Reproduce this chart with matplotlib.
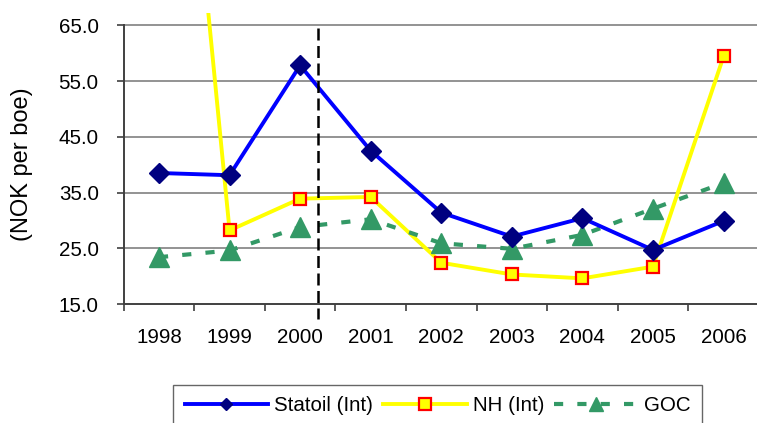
"""
Unit cost per boe: Statoil vs Norsk Hydro vs GOC, 1998-2006
"""

import numpy as np
import matplotlib.pyplot as plt
from matplotlib.lines import Line2D

plt.rcParams['font.family'] = ['Liberation Sans', 'DejaVu Sans']

# Data
YEARS = ['1998', '1999', '2000', '2001', '2002', '2003', '2004', '2005', '2006']
STATOIL = [38.5, 38.1, 57.8, 42.5, 31.4, 27.1, 30.4, 24.7, 29.9]
NH = [158.0, 28.2, 33.9, 34.2, 22.4, 20.3, 19.6, 21.7, 59.4]
GOC = [23.4, 24.6, 28.8, 30.2, 25.9, 24.9, 27.4, 32.1, 36.7]
Y_TICKS = [15, 25, 35, 45, 55, 65]
LABELS = ['Statoil (Int)', 'NH (Int)', 'GOC']

FS = 14.8


def main():
    fig = plt.figure(figsize=(7.57, 4.23), dpi=100)
    ax = fig.add_axes([0.1634, 0.2813, 0.839, 0.688])

    x = np.arange(len(YEARS))

    # estilos das series
    s_style = dict(color='#0000FF', lw=2.8, marker='D', ms=10.5,
                   mfc='#000080', mec='#000080')
    n_style = dict(color='#FFFF00', lw=2.8, marker='s', ms=8.5,
                   mfc='#FFFF00', mec='#FF0000', mew=1.6)
    g_style = dict(color='#339966', lw=3.0, ls=(0, (2.2, 3.4)), marker='^',
                   ms=15, mfc='#339966', mec='#339966')

    # linhas primeiro, marcadores por cima
    for y, st in [(NH, n_style), (GOC, g_style), (STATOIL, s_style)]:
        ax.plot(x, y, color=st['color'], lw=st['lw'], ls=st.get('ls', '-'),
                zorder=3)
    for y, st in [(NH, n_style), (GOC, g_style), (STATOIL, s_style)]:
        ax.plot(x, y, ls='none', marker=st['marker'], ms=st['ms'],
                mfc=st['mfc'], mec=st['mec'], mew=st.get('mew', 1),
                zorder=4)

    # linha vertical tracejada entre 2000 e 2001
    ax.plot([2.25, 2.25], [64.5, 12.3], color='black', lw=1.8,
            ls=(0, (4.8, 2.2)), clip_on=False, zorder=5)

    ax.set_xlim(-0.5, 8.5)
    ax.set_ylim(15, 67.2)

    ax.set_yticks(Y_TICKS)
    ax.set_yticklabels([f'{v:.1f}' for v in Y_TICKS])
    ax.set_xticks(x)
    ax.set_xticklabels(YEARS)
    ax.set_xticks(np.arange(-0.5, 9.0, 1.0), minor=True)

    ax.tick_params(axis='x', which='major', length=0, pad=17.5, labelsize=FS)
    ax.tick_params(axis='x', which='minor', length=5, width=1.2,
                   color='#404040', direction='out')
    ax.tick_params(axis='y', length=5, width=1.2, color='#404040',
                   pad=13, labelsize=FS)

    for v in Y_TICKS[1:]:
        ax.axhline(v, color='#808080', lw=1.2, zorder=1)

    for side in ['top', 'right']:
        ax.spines[side].set_visible(False)
    for side in ['left', 'bottom']:
        ax.spines[side].set_color('#404040')
        ax.spines[side].set_linewidth(1.4)
    ax.spines['left'].set_bounds(15, 65)

    fig.text(22 / 757, 1 - 164 / 423, '(NOK per boe)', rotation=90,
             ha='center', va='center', fontsize=17)

    handles = []
    leg_ms = [6.5, 8.0, 9.5]
    for st, ms in zip([s_style, n_style, g_style], leg_ms):
        handles.append(Line2D([], [], color=st['color'], lw=st['lw'],
                              ls=st.get('ls', '-'), marker=st['marker'],
                              ms=ms, mfc=st['mfc'], mec=st['mec'],
                              mew=st.get('mew', 1)))
    leg = fig.legend(handles, LABELS, loc='upper center',
                     bbox_to_anchor=(0.578, 0.0898), ncol=3, fontsize=FS,
                     frameon=True, fancybox=False, edgecolor='#404040',
                     handlelength=4.05, handletextpad=0.3, columnspacing=0.5,
                     borderpad=0.55, borderaxespad=0)
    leg.get_frame().set_linewidth(1.0)

    fig.savefig('out.png', dpi=100)


if __name__ == "__main__":
    main()
